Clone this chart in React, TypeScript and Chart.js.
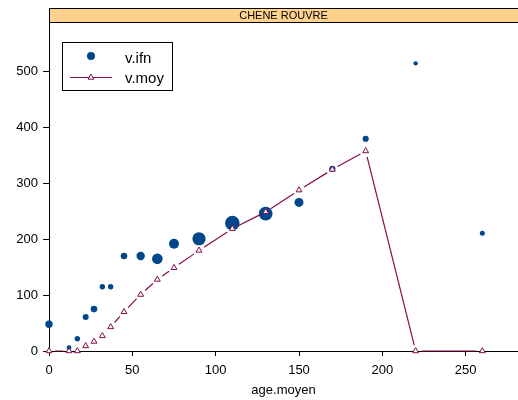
import { useEffect, useRef } from "react";
import { Chart, registerables } from "chart.js";

Chart.register(...registerables);

// Panel title and series
const panelTitle = "CHENE ROUVRE";
const ageMoyen = [0, 12, 17, 22, 27, 32, 37, 45, 55, 65, 75, 90, 110, 130, 150, 170, 190, 220, 260];
const vIfn = [48, 6, 22, 61, 75, 115, 115, 170, 170, 165, 192, 201, 229, 246, 266, 326, 380, 515, 211];
const vMoy = [0, 0, 0, 9, 17, 27, 43, 70, 101, 128, 149, 180, 219, 249, 288, 325, 358, 0, 0];
// marker radius of each v.ifn point (px)
const ifnRadius = [3.7, 2.4, 2.7, 3, 3.3, 2.7, 2.7, 3.3, 4.2, 5.3, 5, 6.6, 7.3, 6.9, 4.5, 3.1, 3.1, 2.2, 2.5];

const xTicks = [0, 50, 100, 150, 200, 250];
const yTicks = [0, 100, 200, 300, 400, 500];

const BLUE = "#00468B";
const WINE = "#870A4B";
const STRIP = "#FFD18F";
const FONT = "'Liberation Sans', Arial, sans-serif";
const GAP = 6;
const TRI_R = 3.4;

function triangle(ctx: CanvasRenderingContext2D, x: number, y: number, r: number) {
  let rad = 0;
  ctx.beginPath();
  ctx.moveTo(x + Math.sin(rad) * r, y - Math.cos(rad) * r);
  rad += (2 * Math.PI) / 3;
  ctx.lineTo(x + Math.sin(rad) * r, y - Math.cos(rad) * r);
  rad += (2 * Math.PI) / 3;
  ctx.lineTo(x + Math.sin(rad) * r, y - Math.cos(rad) * r);
  ctx.closePath();
  ctx.fillStyle = "#fff";
  ctx.fill();
  ctx.strokeStyle = WINE;
  ctx.lineWidth = 1;
  ctx.stroke();
}

// v.moy is drawn as a line broken around each marker
const gappedLine = {
  id: "gappedLine",
  afterDatasetsDraw(chart: any) {
    const { ctx } = chart;
    const pts = chart.getDatasetMeta(0).data;
    ctx.save();
    ctx.strokeStyle = WINE;
    ctx.lineWidth = 1.2;
    ctx.beginPath();
    for (let i = 0; i < pts.length - 1; i++) {
      const p0 = pts[i];
      const p1 = pts[i + 1];
      const dx = p1.x - p0.x;
      const dy = p1.y - p0.y;
      const len = Math.hypot(dx, dy);
      if (len <= 2 * GAP) continue;
      const ux = dx / len;
      const uy = dy / len;
      ctx.moveTo(p0.x + ux * GAP, p0.y + uy * GAP);
      ctx.lineTo(p1.x - ux * GAP, p1.y - uy * GAP);
    }
    ctx.stroke();
    ctx.restore();
  },
};

// strip header and key
const panelDecor = {
  id: "panelDecor",
  afterDraw(chart: any) {
    const { ctx, chartArea: a } = chart;
    ctx.save();
    ctx.fillStyle = STRIP;
    ctx.fillRect(a.left, 8, a.right - a.left, a.top - 8);
    ctx.strokeStyle = "#000";
    ctx.lineWidth = 1;
    ctx.strokeRect(a.left + 0.5, 8.5, a.right - a.left, a.top - 8);
    ctx.fillStyle = "#000";
    ctx.font = `11px ${FONT}`;
    ctx.textAlign = "center";
    ctx.textBaseline = "middle";
    ctx.fillText(panelTitle, (a.left + a.right) / 2, (8 + a.top) / 2 + 1);

    // key box
    ctx.strokeStyle = "#000";
    ctx.lineWidth = 1;
    ctx.strokeRect(62.5, 42.5, 110, 48);
    ctx.fillStyle = BLUE;
    ctx.beginPath();
    ctx.arc(91, 56, 4, 0, Math.PI * 2);
    ctx.fill();
    ctx.strokeStyle = WINE;
    ctx.lineWidth = 1.2;
    ctx.beginPath();
    ctx.moveTo(70, 77.5);
    ctx.lineTo(112, 77.5);
    ctx.stroke();
    triangle(ctx, 91, 77.5, TRI_R);
    ctx.fillStyle = "#000";
    ctx.font = `15px ${FONT}`;
    ctx.textAlign = "left";
    ctx.textBaseline = "alphabetic";
    ctx.fillText("v.ifn", 125, 62.5);
    ctx.fillText("v.moy", 125, 83);
    ctx.restore();
  },
};

export default function App() {
  const canvasRef = useRef<HTMLCanvasElement | null>(null);

  useEffect(() => {
    const canvas = canvasRef.current;
    if (!canvas) return;
    const chart = new Chart(canvas, {
      type: "scatter",
      data: {
        datasets: [
          {
            label: "v.moy",
            data: ageMoyen.map((x, i) => ({ x, y: vMoy[i] })),
            order: 0,
            pointStyle: "triangle",
            pointRadius: TRI_R,
            pointBorderWidth: 1,
            pointBackgroundColor: "#fff",
            pointBorderColor: WINE,
            showLine: false,
            clip: false as any,
          },
          {
            label: "v.ifn",
            data: ageMoyen.map((x, i) => ({ x, y: vIfn[i] })),
            order: 1,
            pointStyle: "circle",
            pointRadius: ifnRadius,
            pointBorderWidth: 0,
            pointBackgroundColor: BLUE,
            pointBorderColor: BLUE,
            showLine: false,
            clip: false as any,
          },
        ],
      },
      options: {
        animation: false,
        responsive: false,
        devicePixelRatio: 1,
        layout: { autoPadding: false, padding: { top: 22, right: 0, left: 0, bottom: 0 } },
        plugins: {
          legend: { display: false },
          tooltip: { enabled: false },
        },
        scales: {
          x: {
            type: "linear",
            min: 0,
            max: 281.4,
            afterBuildTicks: (s: any) => {
              s.ticks = xTicks.map((value) => ({ value }));
            },
            afterFit: (s: any) => {
              s.height = 49;
              s.paddingLeft = 0;
              s.paddingRight = 0;
            },
            ticks: {
              color: "#000",
              font: { family: FONT, size: 13 },
              padding: 7,
              maxRotation: 0,
              autoSkip: false,
            },
            grid: {
              display: true,
              drawOnChartArea: false,
              drawTicks: true,
              tickLength: 5,
              color: "#000",
            },
            border: { display: true, color: "#000", width: 1 },
            title: {
              display: true,
              text: "age.moyen",
              color: "#000",
              font: { family: FONT, size: 13 },
              padding: { top: 0, bottom: 2 },
            },
          },
          y: {
            type: "linear",
            min: 0,
            max: 589,
            afterBuildTicks: (s: any) => {
              s.ticks = yTicks.map((value) => ({ value }));
            },
            afterFit: (s: any) => {
              s.width = 49;
              s.paddingTop = 0;
              s.paddingBottom = 0;
            },
            ticks: {
              color: "#000",
              font: { family: FONT, size: 13 },
              padding: 5,
              autoSkip: false,
            },
            grid: {
              display: true,
              drawOnChartArea: false,
              drawTicks: true,
              tickLength: 6,
              color: "#000",
            },
            border: { display: true, color: "#000", width: 1 },
          },
        },
      },
      plugins: [gappedLine, panelDecor],
    });
    return () => chart.destroy();
  }, []);

  return (
    <div style={{ position: "absolute", left: 0, top: 0, width: 518, height: 400, background: "#fff" }}>
      <canvas ref={canvasRef} width={518} height={400} style={{ display: "block" }} />
    </div>
  );
}
